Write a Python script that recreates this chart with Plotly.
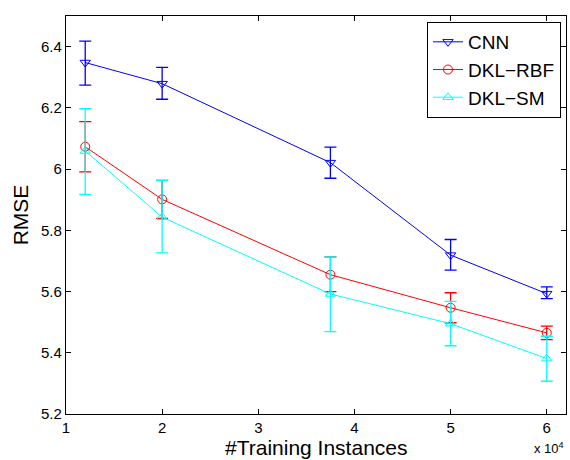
import plotly.graph_objects as go
import numpy as np

# x in units of 10^4 training instances
x_vals = [1.2, 2.0, 3.75, 5.0, 6.0]

cnn_mean = [6.348, 6.279, 6.021, 5.719, 5.593]
cnn_hi = [6.418, 6.332, 6.072, 5.770, 5.615]
cnn_lo = [6.274, 6.228, 5.970, 5.670, 5.577]

rbf_mean = [6.073, 5.901, 5.655, 5.547, 5.465]
rbf_hi = [6.155, 5.963, 5.713, 5.596, 5.487]
rbf_lo = [5.991, 5.839, 5.600, 5.498, 5.443]

sm_mean = [6.059, 5.843, 5.592, 5.495, 5.381]
sm_hi = [6.197, 5.963, 5.713, 5.568, 5.454]
sm_lo = [5.917, 5.726, 5.469, 5.423, 5.307]

series = [
    ("CNN", cnn_mean, cnn_hi, cnn_lo, "#0000ff", "triangle-down-open"),
    ("DKL\u2212RBF", rbf_mean, rbf_hi, rbf_lo, "#ff0000", "circle-open"),
    ("DKL\u2212SM", sm_mean, sm_hi, sm_lo, "#00ffff", "triangle-up-open"),
]

x_ticks = [1, 2, 3, 4, 5, 6]
y_ticks = [5.2, 5.4, 5.6, 5.8, 6.0, 6.2, 6.4]
y_tick_labels = ["5.2", "5.4", "5.6", "5.8", "6", "6.2", "6.4"]

FONT = "Liberation Sans, Arial, Helvetica, sans-serif"

fig = go.Figure()
for name, m, hi, lo, col, sym in series:
    m = np.array(m)
    fig.add_trace(go.Scatter(
        x=x_vals, y=m, name=name, mode="lines+markers",
        line=dict(color=col, width=1),
        marker=dict(symbol=sym, size=9, color=col, line=dict(width=1, color=col)),
        error_y=dict(type="data", symmetric=False,
                     array=np.array(hi) - m, arrayminus=m - np.array(lo),
                     color=col, thickness=1.3, width=6),
    ))

axis_common = dict(
    showline=True, linecolor="black", linewidth=1.2, mirror="ticks",
    ticks="inside", ticklen=5, tickcolor="black", tickwidth=1,
    showgrid=False, zeroline=False,
    tickfont=dict(family=FONT, size=15, color="black"),
)

fig.update_layout(
    width=570, height=460,
    margin=dict(l=65.5, r=2.3, t=16, b=45.7),
    paper_bgcolor="white", plot_bgcolor="white",
    xaxis=dict(range=[1, 6.2], tickvals=x_ticks, ticktext=[str(t) for t in x_ticks],
               **axis_common),
    yaxis=dict(range=[5.2, 6.5], tickvals=y_ticks, ticktext=y_tick_labels,
               title=dict(text="RMSE", standoff=6,
                          font=dict(family=FONT, size=21, color="black")),
               **axis_common),
    legend=dict(x=0.99, y=0.985, xanchor="right", yanchor="top",
                bordercolor="black", borderwidth=1, bgcolor="white",
                font=dict(family=FONT, size=19, color="black"),
                tracegroupgap=0, itemwidth=30),
    showlegend=True,
    annotations=[
        dict(text="#Training Instances", xref="paper", yref="paper",
             x=0.5, y=-0.083, xanchor="center", yanchor="middle",
             showarrow=False, font=dict(family=FONT, size=21, color="black")),
        dict(text="x 10<sup>4</sup>", xref="paper", yref="paper",
             x=1.0, y=-0.11, xanchor="right", yanchor="bottom",
             showarrow=False, font=dict(family=FONT, size=13, color="black")),
    ],
)

fig.write_html("out.html", config={"displayModeBar": False},
               post_script="document.body.style.margin='0px';document.body.style.overflow='hidden';")
